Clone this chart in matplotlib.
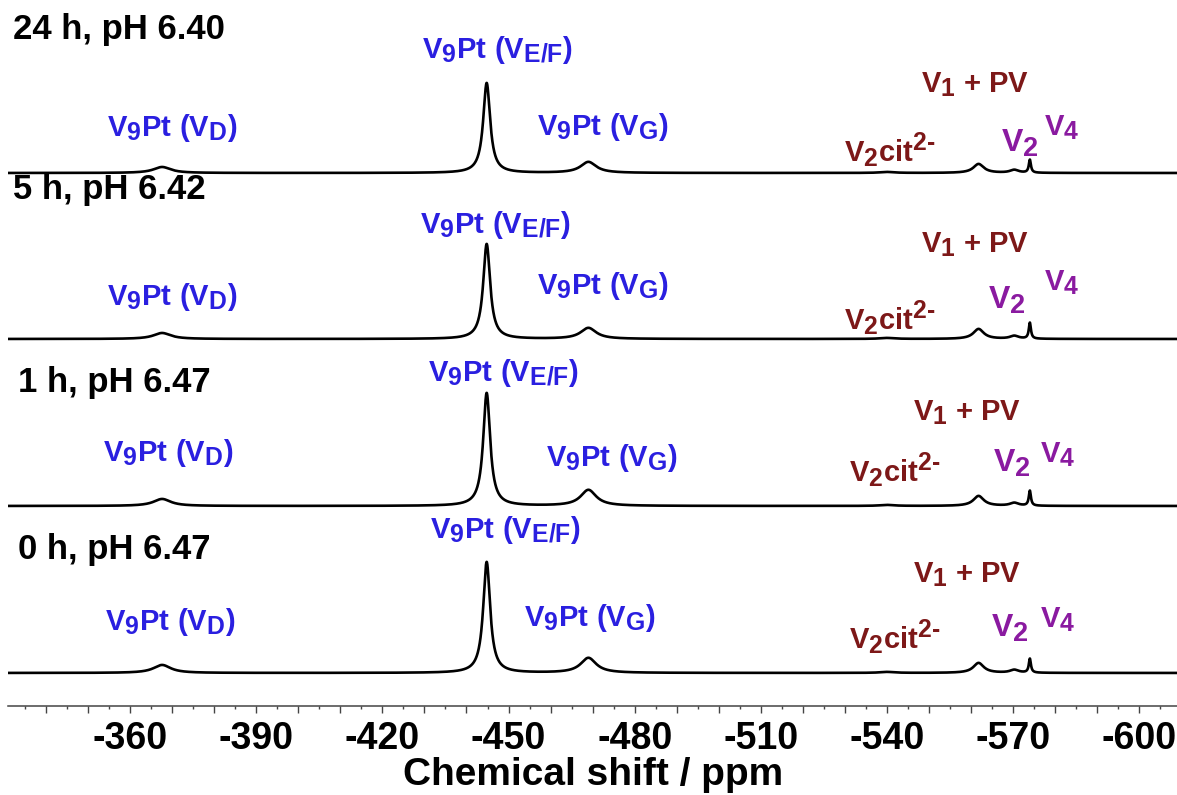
import numpy as np
import matplotlib
matplotlib.use('Agg')
import matplotlib.pyplot as plt
import matplotlib._mathtext as mathtext_impl
from matplotlib.ticker import MultipleLocator, FuncFormatter

plt.rcParams['font.family'] = 'Liberation Sans'
plt.rcParams['font.weight'] = 'bold'
plt.rcParams['mathtext.fontset'] = 'custom'
plt.rcParams['mathtext.bf'] = 'Liberation Sans:bold'
plt.rcParams['mathtext.rm'] = 'Liberation Sans:bold'
plt.rcParams['mathtext.it'] = 'Liberation Sans:bold'
# subscripts in the original are nearly full size
mathtext_impl.SHRINK_FACTOR = 0.85

# Spectra, top to bottom
conditions = ['24 h, pH 6.40', '5 h, pH 6.42', '1 h, pH 6.47', '0 h, pH 6.47']

# Peak positions (ppm) and widths (FWHM, ppm)
peak_names = ['VD', 'VE/F', 'VG', 'V2cit', 'V1+PV', 'V2', 'V4']
peak_ppm = [-367.6, -444.8, -469.0, -540.0, -561.8, -570.3, -574.0]
peak_fwhm = [5.0, 2.0, 4.5, 4.0, 3.0, 2.5, 0.6]

# Peak heights for each spectrum (arbitrary units)
heights_24h = [6, 90, 11, 1, 9, 3, 13]
heights_5h = [6, 95, 11, 1, 10, 3, 16]
heights_1h = [7, 113, 16, 1, 10, 3, 15]
heights_0h = [8, 111, 15, 1, 10, 3, 14]
all_heights = [heights_24h, heights_5h, heights_1h, heights_0h]

blue = '#2a1fe0'
dred = '#7d1818'
purple = '#8a1aa0'

fig = plt.figure(figsize=(11.77, 7.95), dpi=100)
ax = fig.add_axes([0.007, 0.112, 0.993, 0.888])

x = np.linspace(-331, -609, 6000)
offsets = [533, 367, 200, 33]

for heights, off in zip(all_heights, offsets):
    y = np.zeros_like(x)
    for c, w, h in zip(peak_ppm, peak_fwhm, heights):
        g = w / 2.0
        y += h * g**2 / ((x - c)**2 + g**2)
    ax.plot(x, y + off, color='black', lw=1.9)

# labels: (x ppm, y measured down from top of axes in px)
def lab(xp, py, s, color, size=21, ha='center'):
    ax.text(xp, 706 - py, s, color=color, fontsize=size, ha=ha, va='center',
            fontweight='bold')

title_pos = [(-332.2, 30), (-332.2, 190), (-333.4, 383), (-333.4, 550)]
vd_pos = [(-370.0, 128), (-370.0, 297), (-369.0, 453), (-369.5, 622)]
vef_pos = [(-447.3, 50), (-447.0, 225), (-448.7, 373), (-449.2, 530)]
vg_pos = [(-472.5, 127), (-472.5, 286), (-474.6, 458), (-469.4, 618)]
v1_pos = [(-561.0, 85), (-561.0, 245), (-559.1, 413), (-559.1, 575)]
v2cit_pos = [(-540.7, 150), (-540.7, 318), (-541.9, 470), (-541.9, 637)]
v2_pos = [(-571.7, 143), (-568.6, 300), (-569.8, 463), (-569.3, 628)]
v4_pos = [(-581.6, 128), (-581.6, 283), (-580.7, 455), (-580.7, 620)]

for i in range(4):
    lab(title_pos[i][0], title_pos[i][1], conditions[i], 'black', size=25, ha='left')
    lab(*vd_pos[i], r'$\mathbf{V_9Pt\ (V_D)}$', blue)
    lab(*vef_pos[i], r'$\mathbf{V_9Pt\ (V_{E/F})}$', blue)
    lab(*vg_pos[i], r'$\mathbf{V_9Pt\ (V_G)}$', blue)
    lab(*v1_pos[i], r'V$_\mathbf{1}$ + PV', dred)
    lab(*v2cit_pos[i], r'$\mathbf{V_2cit^{2\text{-}}}$', dred)
    lab(*v2_pos[i], r'$\mathbf{V_2}$', purple, size=23)
    lab(*v4_pos[i], r'$\mathbf{V_4}$', purple)

ax.set_xlim(-331, -609)
ax.set_ylim(0, 706)
for s in ['top', 'left', 'right']:
    ax.spines[s].set_visible(False)
ax.spines['bottom'].set_linewidth(1.1)
ax.spines['bottom'].set_color('#444444')
ax.set_yticks([])
ax.xaxis.set_major_locator(MultipleLocator(10))
ax.xaxis.set_minor_locator(MultipleLocator(5))
ax.xaxis.set_major_formatter(FuncFormatter(lambda v, p: '%d' % v if round(v) % 30 == 0 else ''))
ax.tick_params(axis='x', which='major', length=5, width=1, color='#444444',
               labelsize=27, pad=6)
ax.tick_params(axis='x', which='minor', length=2.5, width=1, color='#444444')
ax.set_xlabel('Chemical shift / ppm', fontsize=28, fontweight='bold', labelpad=0)
ax.patch.set_alpha(0)

fig.savefig('out.png', dpi=100)
